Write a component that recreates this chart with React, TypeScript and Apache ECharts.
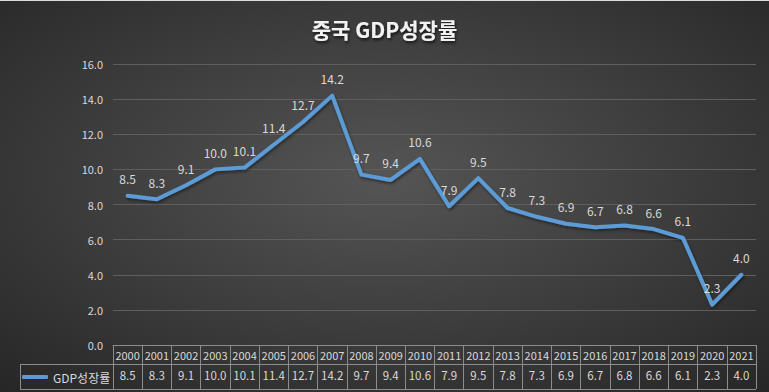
import React, { useEffect, useRef } from "react";
import * as echarts from "echarts";

const years = ["2000","2001","2002","2003","2004","2005","2006","2007","2008","2009","2010","2011","2012","2013","2014","2015","2016","2017","2018","2019","2020","2021"];
const growth = [8.5, 8.3, 9.1, 10.0, 10.1, 11.4, 12.7, 14.2, 9.7, 9.4, 10.6, 7.9, 9.5, 7.8, 7.3, 6.9, 6.7, 6.8, 6.6, 6.1, 2.3, 4.0];
const seriesName = "GDP성장률";
const titleText = "중국 GDP성장률";

const FONT = "'Noto Sans CJK KR', 'Noto Sans', sans-serif";
const TXT = "#d9d9d9";
const TABLE_LINE = "#8c8c8c";

export default function App() {
  const ref = useRef<HTMLDivElement>(null);
  useEffect(() => {
    document.body.style.margin = "0";
    const chart = echarts.init(ref.current!, null, { renderer: "svg" });
    chart.setOption({
      animation: false,
      backgroundColor: {
        type: "radial", x: 0.5, y: 0.45, r: 0.75,
        colorStops: [
          { offset: 0, color: "#555555" },
          { offset: 1, color: "#262626" },
        ],
      },
      textStyle: { fontFamily: FONT },
      title: {
        text: titleText,
        left: "center",
        top: 13,
        textStyle: {
          color: "#f2f2f2", fontSize: 21, fontWeight: "bold", fontFamily: FONT,
          textShadowColor: "rgba(0,0,0,0.7)", textShadowBlur: 3, textShadowOffsetX: 1, textShadowOffsetY: 2,
        },
      },
      legend: {
        show: true,
        left: 22,
        top: 371,
        padding: 0,
        itemWidth: 26,
        itemHeight: 4,
        icon: "roundRect",
        textStyle: { color: TXT, fontSize: 12, fontFamily: FONT },
        data: [seriesName],
      },
      grid: { left: 113, right: 13, top: 64, bottom: 47, containLabel: false },
      xAxis: [
        {
          type: "category",
          data: years,
          boundaryGap: true,
          position: "bottom",
          axisLine: { show: true, lineStyle: { color: TABLE_LINE, width: 1 } },
          axisTick: { show: true, interval: 0, length: 44, lineStyle: { color: TABLE_LINE } },
          axisLabel: { color: TXT, fontSize: 11, margin: 4, interval: 0, fontFamily: FONT },
          splitLine: { show: false },
        },
        {
          type: "category",
          data: growth.map((v) => v.toFixed(1)),
          boundaryGap: true,
          position: "bottom",
          offset: 19,
          axisLine: { show: false },
          axisTick: { show: false },
          axisLabel: { color: TXT, fontSize: 11.5, margin: 5, interval: 0, fontFamily: FONT },
          splitLine: { show: false },
        },
      ],
      yAxis: {
        type: "value",
        min: 0,
        max: 16,
        interval: 2,
        axisLine: { show: false },
        axisTick: { show: false },
        axisLabel: { color: TXT, fontSize: 11, margin: 10, formatter: (v: number) => v.toFixed(1), fontFamily: FONT },
        splitLine: { lineStyle: { color: "#5f5f5f", width: 1 } },
      },
      series: [
        {
          name: seriesName,
          type: "line",
          data: growth,
          showSymbol: true,
          symbol: "circle",
          symbolSize: 0,
          color: "#5b9bd5",
          itemStyle: { color: "#5b9bd5" },
          lineStyle: {
            color: "#5b9bd5", width: 4, cap: "round", join: "round",
            shadowColor: "rgba(0,0,0,0.45)", shadowBlur: 3, shadowOffsetX: 1, shadowOffsetY: 2,
          },
          label: {
            show: true,
            position: "top",
            distance: 11,
            color: TXT,
            fontSize: 12,
            fontFamily: FONT,
            formatter: (p: any) => Number(p.value).toFixed(1),
          },
          labelLayout: { hideOverlap: false },
        },
      ],
      graphic: [
        { type: "rect", shape: { x: 0, y: 0, width: 769, height: 1 }, style: { fill: "#dcdcdc" }, silent: true },
        { type: "line", shape: { x1: 20, y1: 364.5, x2: 756, y2: 364.5 }, style: { stroke: TABLE_LINE, lineWidth: 1 }, silent: true },
        { type: "line", shape: { x1: 20, y1: 389.5, x2: 756, y2: 389.5 }, style: { stroke: TABLE_LINE, lineWidth: 1 }, silent: true },
        { type: "line", shape: { x1: 20.5, y1: 364, x2: 20.5, y2: 390 }, style: { stroke: TABLE_LINE, lineWidth: 1 }, silent: true },
      ],
    });
    return () => chart.dispose();
  }, []);
  return <div ref={ref} style={{ position: "absolute", left: 0, top: 0, width: 769, height: 392 }} />;
}
